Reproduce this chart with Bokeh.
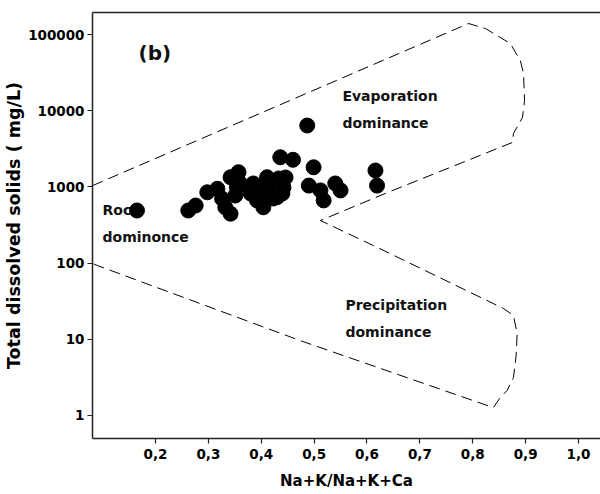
from bokeh.plotting import figure
from bokeh.models import FixedTicker, LinearAxis, Range1d
from bokeh.core.properties import value
from bokeh.embed import file_html
from bokeh.resources import INLINE

# ---- data ----
na_ratio = [0.165, 0.262, 0.276, 0.298, 0.317, 0.326, 0.342, 0.342, 0.357, 0.351,
            0.354, 0.361, 0.385, 0.380, 0.392, 0.404, 0.398, 0.417, 0.423, 0.433,
            0.442, 0.446, 0.440, 0.411, 0.436, 0.460, 0.487, 0.499, 0.490, 0.512,
            0.518, 0.540, 0.550, 0.616, 0.619, 0.332, 0.414, 0.430, 0.410]
tds = [490, 490, 570, 850, 945, 700, 445, 1340, 1560, 770,
       990, 1100, 1110, 820, 665, 540, 900, 1110, 705, 1290,
       980, 1330, 820, 1340, 2450, 2270, 6390, 1810, 1040, 900,
       665, 1110, 900, 1640, 1040, 540, 820, 735, 1000]

# Gibbs envelope (dashed boundary)
env_x = [0.081, 0.792, 0.824, 0.871, 0.890, 0.896, 0.898, 0.894, 0.877, 0.875,
         0.639, 0.512, 0.620, 0.858, 0.877, 0.884, 0.882, 0.877, 0.865, 0.852,
         0.839, 0.474, 0.090, 0.081]
env_y = [1040, 139400, 119900, 76200, 45600, 30800, 13600, 8140, 5020, 3830,
         845, 362, 160, 25.4, 20.5, 11.9, 6.1, 3.15, 2.13, 1.72,
         1.27, 9.6, 93, 99]

x_ticks = [0.2, 0.3, 0.4, 0.5, 0.6, 0.7, 0.8, 0.9, 1.0]
x_tick_labels = ["0,2", "0,3", "0,4", "0,5", "0,6", "0,7", "0,8", "0,9", "1,0"]
y_ticks = [1, 10, 100, 1000, 10000, 100000]
y_tick_labels = ["1", "10", "100", "1000", "10000", "100000"]

label_text = ["Evaporation", "dominance", "Rock", "dominonce", "Precipitation", "dominance"]
label_x = [0.5535, 0.5535, 0.0998, 0.0998, 0.5592, 0.5592]
label_y = [15800, 7000, 505, 223, 28.6, 12.3]

FONT = "DejaVu Sans"

p = figure(width=600, height=494, output_backend="svg", toolbar_location=None,
           y_axis_type="log",
           x_range=Range1d(0.0809, 1.0416), y_range=Range1d(0.499, 194500),
           min_border_left=92, min_border_top=12, min_border_bottom=56,
           min_border_right=0)
p.outline_line_color = None
p.grid.visible = False
p.background_fill_color = "white"
p.border_fill_color = "white"

xa = p.below[0]
xa.ticker = FixedTicker(ticks=x_ticks)
xa.major_label_overrides = dict(zip(x_ticks, x_tick_labels))
xa.axis_label = "Na+K/Na+K+Ca"
ya = p.left[0]
ya.ticker = FixedTicker(ticks=y_ticks)
ya.major_label_overrides = dict(zip(y_ticks, y_tick_labels))
ya.axis_label = "Total dissolved solids ( mg/L)"

for ax in (xa, ya):
    ax.axis_line_color = "#222222"
    ax.axis_line_width = 1.5
    ax.major_tick_line_color = "#222222"
    ax.major_tick_line_width = 1.2
    ax.major_tick_in = 0
    ax.major_tick_out = 5
    ax.minor_tick_line_color = None
    ax.major_label_text_font = FONT
    ax.major_label_text_font_style = "bold"
    ax.major_label_text_font_size = "13.5px"
    ax.major_label_text_color = "black"
    ax.axis_label_text_font = FONT
    ax.axis_label_text_font_style = "bold"
    ax.axis_label_text_color = "black"

xa.axis_label_text_font_size = "15px"
ya.axis_label_text_font_size = "17.5px"
xa.major_label_standoff = 5
xa.axis_label_standoff = 10
ya.major_label_standoff = 3
ya.axis_label_standoff = 1

# top border line
top_ax = LinearAxis(ticker=FixedTicker(ticks=[]), axis_line_color="#222222",
                    axis_line_width=1.5, major_tick_line_color=None,
                    minor_tick_line_color=None, major_label_text_font_size="0px",
                    major_tick_out=0, major_tick_in=0, major_label_standoff=0,
                    axis_label=None)
p.add_layout(top_ax, "above")

p.line(env_x, env_y, line_color="black", line_width=1, line_dash="11 6")

p.text(x=label_x, y=label_y, text=label_text, text_font=value(FONT),
       text_font_style="bold", text_font_size="14px", text_color="#111111",
       text_align="left", text_baseline="middle")
p.text(x=[0.1679], y=[58000], text=["(b)"], text_font=value(FONT),
       text_font_style="bold", text_font_size="20px", text_color="#111111",
       text_align="left", text_baseline="middle")

p.scatter(na_ratio, tds, size=15, fill_color="black", line_color="black")

open("out.html", "w").write(file_html(p, INLINE))
